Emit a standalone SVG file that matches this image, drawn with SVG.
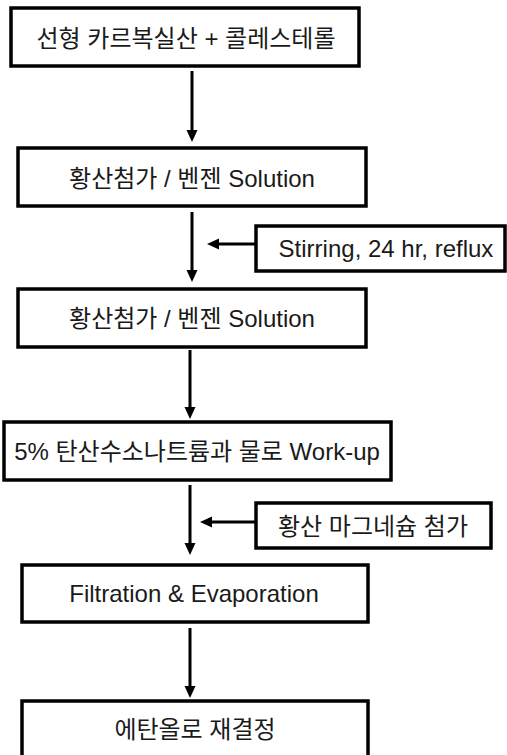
<svg xmlns="http://www.w3.org/2000/svg" width="507" height="755" viewBox="0 0 507 755">
<defs>
<style>
.box{fill:#fff;stroke:#000;stroke-width:3.5}
.lbl{font-family:"Liberation Sans","Noto Sans CJK KR",sans-serif;font-size:24px;fill:#1a1a1a;text-anchor:middle}
.con{stroke:#000;stroke-width:3;fill:none}
</style>
<marker id="ah" markerUnits="userSpaceOnUse" markerWidth="12" markerHeight="12" viewBox="0 0 12 12" refX="5" refY="6" orient="auto">
<path d="M0,0.5 L12,6 L0,11.5 z" fill="#000"/>
</marker>
</defs>
<g id="connectors">
<line class="con" x1="192" y1="71" x2="192" y2="135" marker-end="url(#ah)"/>
<line class="con" x1="192" y1="212" x2="192" y2="275" marker-end="url(#ah)"/>
<line class="con" x1="256" y1="244" x2="214" y2="244" marker-end="url(#ah)"/>
<line class="con" x1="190" y1="350" x2="190" y2="412" marker-end="url(#ah)"/>
<line class="con" x1="190" y1="485" x2="190" y2="548" marker-end="url(#ah)"/>
<line class="con" x1="256" y1="522" x2="207" y2="522" marker-end="url(#ah)"/>
<line class="con" x1="190" y1="628" x2="190" y2="691" marker-end="url(#ah)"/>
</g>
<g id="n1"><rect class="box" x="11" y="8" width="348" height="58"/><text class="lbl" x="186" y="47">선형 카르복실산 + 콜레스테롤</text></g>
<g id="n2"><rect class="box" x="18" y="148" width="348" height="58"/><text class="lbl" x="192" y="187">황산첨가 / 벤젠 Solution</text></g>
<g id="s1"><rect class="box" x="256" y="226" width="249" height="45"/><text class="lbl" x="386" y="257">Stirring, 24 hr, reflux</text></g>
<g id="n3"><rect class="box" x="18" y="289" width="348" height="58"/><text class="lbl" x="192" y="327">황산첨가 / 벤젠 Solution</text></g>
<g id="n4"><rect class="box" x="4" y="422" width="387" height="58"/><text class="lbl" x="197" y="460">5% 탄산수소나트륨과 물로 Work-up</text></g>
<g id="s2"><rect class="box" x="256" y="503" width="235" height="45"/><text class="lbl" x="373" y="535">황산 마그네슘 첨가</text></g>
<g id="n5"><rect class="box" x="22" y="565" width="346" height="57"/><text class="lbl" x="194" y="602">Filtration &amp; Evaporation</text></g>
<g id="n6"><rect class="box" x="22" y="701" width="346" height="60"/><text class="lbl" x="195" y="738">에탄올로 재결정</text></g>
</svg>
